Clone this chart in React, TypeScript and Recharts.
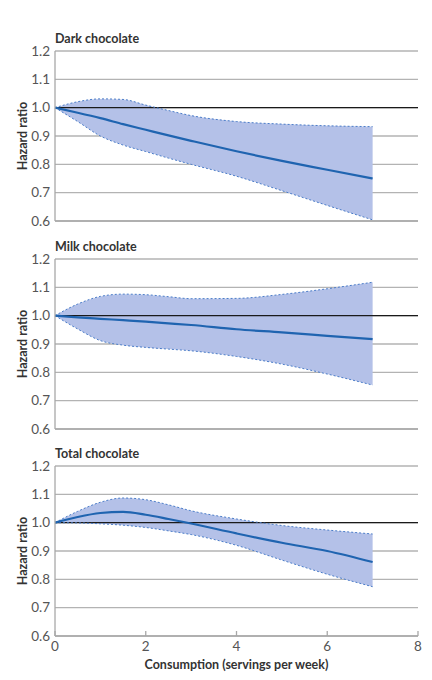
import React from 'react';
import { ComposedChart, Area, Line, XAxis, YAxis, CartesianGrid, ReferenceLine } from 'recharts';

const consumption = [0, 0.5, 1, 1.5, 2, 2.5, 3, 4, 5, 6, 7];

const darkHR = [1.0, 0.982, 0.963, 0.942, 0.922, 0.902, 0.883, 0.846, 0.812, 0.781, 0.75];
const darkUpper = [1.0, 1.021, 1.031, 1.029, 1.009, 0.99, 0.972, 0.951, 0.942, 0.936, 0.933];
const darkLower = [1.0, 0.951, 0.9, 0.868, 0.845, 0.822, 0.8, 0.758, 0.707, 0.655, 0.604];

const milkHR = [1.0, 0.994, 0.989, 0.984, 0.979, 0.973, 0.967, 0.952, 0.941, 0.929, 0.917];
const milkUpper = [1.0, 1.041, 1.068, 1.076, 1.074, 1.067, 1.06, 1.061, 1.075, 1.095, 1.118];
const milkLower = [1.0, 0.953, 0.912, 0.896, 0.888, 0.882, 0.876, 0.856, 0.829, 0.794, 0.755];

const totalHR = [1.0, 1.02, 1.034, 1.038, 1.028, 1.013, 0.997, 0.962, 0.929, 0.9, 0.861];
const totalUpper = [1.0, 1.04, 1.072, 1.087, 1.081, 1.063, 1.042, 1.013, 0.99, 0.974, 0.96];
const totalLower = [1.0, 0.999, 0.996, 0.991, 0.983, 0.971, 0.958, 0.92, 0.868, 0.818, 0.774];

const panelTitles = ['Dark chocolate', 'Milk chocolate', 'Total chocolate'];
const yTicks = [0.6, 0.7, 0.8, 0.9, 1.0, 1.1, 1.2];
const xTicks = [0, 2, 4, 6, 8];
const yLabel = 'Hazard ratio';
const xLabel = 'Consumption (servings per week)';

const FONT = 'Lato, "Open Sans", sans-serif';

function build(hr: number[], lo: number[], hi: number[]) {
  return consumption.map((x, i) => ({ x, hr: hr[i], lo: lo[i], hi: hi[i] }));
}

const panels = [
  build(darkHR, darkLower, darkUpper),
  build(milkHR, milkLower, milkUpper),
  build(totalHR, totalLower, totalUpper),
];

const PANEL_STEP = 207.7;

function Panel({ data, idx }: { data: any[]; idx: number }) {
  const last = idx === 2;
  const height = last ? 264.7 : 235;
  const xAxisH = last ? 36 : 10;
  const bottom = last ? height - 51 - 170 - xAxisH : 4;
  return (
    <div style={{ position: 'absolute', left: 0, top: idx * PANEL_STEP, width: 432, height }}>
      <ComposedChart
        width={432}
        height={height}
        data={data}
        margin={{ top: 51, right: 14, bottom, left: 0 }}
      >
        <CartesianGrid horizontal vertical={false} stroke="#b3b3b3" strokeWidth={1.3} />
        <XAxis
          dataKey="x"
          type="number"
          domain={[0, 8]}
          ticks={xTicks}
          height={xAxisH}
          stroke="#a8a8a8"
          strokeWidth={1.3}
          tickSize={-5}
          tickMargin={10}
          tick={last ? { fill: '#555', fontSize: 13.5, fontFamily: FONT } : false}
          label={
            last
              ? {
                  value: xLabel,
                  position: 'insideBottom',
                  offset: 3,
                  style: { fill: '#333', fontSize: 12.5, fontWeight: 700, fontFamily: FONT },
                }
              : undefined
          }
        />
        <YAxis
          type="number"
          domain={[0.6, 1.2]}
          ticks={yTicks}
          width={55}
          stroke="#a8a8a8"
          strokeWidth={1.3}
          tickLine={false}
          tickSize={0}
          tickMargin={5}
          tickFormatter={(v: number) => v.toFixed(1)}
          tick={{ fill: '#555', fontSize: 13.5, fontFamily: FONT }}
          label={{
            value: yLabel,
            angle: -90,
            position: 'insideLeft',
            offset: 23,
            style: { textAnchor: 'middle', fill: '#333', fontSize: 12.5, fontWeight: 700, fontFamily: FONT },
          }}
        />
        <Area
          type="monotone"
          dataKey={(d: any) => [d.lo, d.hi]}
          fill="#b4c1e8"
          fillOpacity={1}
          stroke="none"
          isAnimationActive={false}
        />
        <ReferenceLine y={1} stroke="#1a1a1a" strokeWidth={1.2} />
        <Line
          type="monotone"
          dataKey="hi"
          stroke="#4a7cc8"
          strokeWidth={1}
          strokeDasharray="2 2"
          dot={false}
          isAnimationActive={false}
        />
        <Line
          type="monotone"
          dataKey="lo"
          stroke="#4a7cc8"
          strokeWidth={1}
          strokeDasharray="2 2"
          dot={false}
          isAnimationActive={false}
        />
        <Line
          type="monotone"
          dataKey="hr"
          stroke="#1f64b0"
          strokeWidth={2.2}
          dot={false}
          isAnimationActive={false}
        />
      </ComposedChart>
      <div
        style={{
          position: 'absolute',
          left: 55,
          top: 31,
          fontFamily: FONT,
          fontSize: 12.5,
          fontWeight: 700,
          lineHeight: '16px',
          color: '#333',
          whiteSpace: 'nowrap',
        }}
      >
        {panelTitles[idx]}
      </div>
    </div>
  );
}

export default function App() {
  return (
    <div style={{ position: 'absolute', left: 0, top: 0, width: 432, height: 680, background: '#fff' }}>
      {panels.map((d, i) => (
        <Panel key={i} data={d} idx={i} />
      ))}
    </div>
  );
}
